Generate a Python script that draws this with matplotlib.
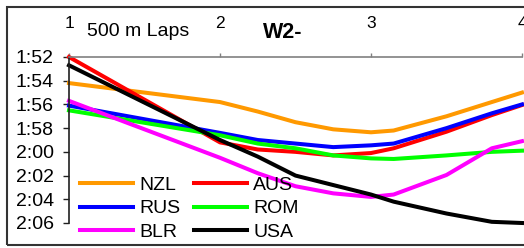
import matplotlib
matplotlib.use("Agg")
import matplotlib.pyplot as plt
from matplotlib.patches import Rectangle

plt.rcParams['font.family'] = ['Liberation Sans', 'DejaVu Sans']

laps = [1, 2, 2.25, 2.5, 2.75, 3, 3.15, 3.5, 3.8, 4]
nzl = [114.2, 115.8, 116.6, 117.5, 118.1, 118.35, 118.2, 117.0, 115.8, 115.0]
aus = [112.0, 119.2, 119.8, 120.0, 120.3, 120.1, 119.7, 118.3, 116.9, 116.05]
rus = [116.1, 118.4, 119.0, 119.3, 119.6, 119.45, 119.3, 118.0, 116.75, 116.0]
rom = [116.5, 118.6, 119.3, 119.7, 120.3, 120.55, 120.6, 120.3, 120.0, 119.9]
blr = [115.7, 120.5, 121.8, 122.9, 123.5, 123.8, 123.6, 121.95, 119.7, 119.1]
usa = [112.7, 119.0, 120.4, 122.0, 122.8, 123.6, 124.2, 125.2, 125.9, 126.0]

series_names = ["NZL", "AUS", "RUS", "ROM", "BLR", "USA"]
series_values = [nzl, aus, rus, rom, blr, usa]
series_colors = ["#FF9900", "#FF0000", "#0000FF", "#00FF00", "#FF00FF", "#000000"]

x_ticks = [1, 2, 3, 4]
y_ticks = [112, 114, 116, 118, 120, 122, 124, 126]

W, H = 524, 248
fig = plt.figure(figsize=(W / 100, H / 100), dpi=100)
ax = fig.add_axes([69 / W, 1 - 223 / H, (522 - 69) / W, (223 - 57) / H])

handles = {}
for name, vals, col in zip(series_names, series_values, series_colors):
    ln, = ax.plot(laps, vals, color=col, lw=2.9, solid_joinstyle='round', clip_on=False)
    handles[name] = ln

ax.set_xlim(1, 4)
ax.set_ylim(126, 112)
ax.set_xticks(x_ticks)
ax.set_xticklabels([str(t) for t in x_ticks])
ax.set_yticks(y_ticks)
ax.set_yticklabels([f"{t // 60}:{t % 60:02d}" for t in y_ticks])

ax.xaxis.tick_top()
ax.tick_params(axis='x', direction='out', length=3, width=1, color='#808080',
               labelsize=12.5, pad=16)
ax.tick_params(axis='y', direction='out', length=4, width=1, color='#202020',
               labelsize=14, pad=7)
for s in ['bottom', 'right']:
    ax.spines[s].set_visible(False)
ax.spines['top'].set_color('#808080')
ax.spines['top'].set_linewidth(1.2)
ax.spines['left'].set_color('#202020')
ax.spines['left'].set_linewidth(1.2)

fig.text(87 / W, 1 - 31 / H, "500 m Laps", fontsize=14, va='center', ha='left')
fig.text(263 / W, 1 - 32 / H, "W2-", fontsize=15.5, fontweight='bold', va='center', ha='left')

order = ["NZL", "RUS", "BLR", "AUS", "ROM", "USA"]
leg = fig.legend([handles[n] for n in order], order, ncol=2, frameon=False,
                 loc='upper left', bbox_to_anchor=(80 / W, 1 - 176 / H),
                 bbox_transform=fig.transFigure, borderpad=0, borderaxespad=0,
                 fontsize=14, handlelength=2.7, handletextpad=0.35,
                 columnspacing=0.7, labelspacing=0.32)

fig.patches.append(Rectangle((7 / W, 3 / H), 1.2, 1 - 10 / H, transform=fig.transFigure,
                             fill=False, edgecolor='#333333', lw=1.5))

fig.savefig("out.png", dpi=100)
